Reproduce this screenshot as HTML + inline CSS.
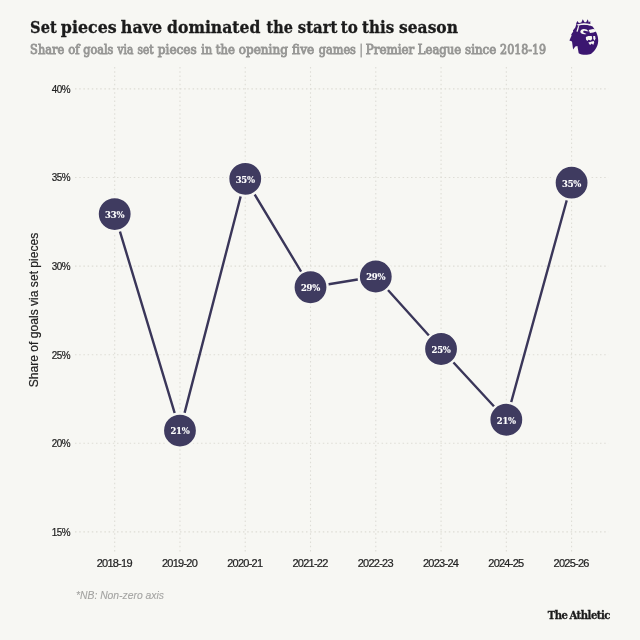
<!DOCTYPE html>
<html lang="en">
<head>
<meta charset="utf-8">
<title>Set pieces have dominated the start to this season</title>
<style>
html,body{margin:0;padding:0;background:#f7f7f3;}
body{width:640px;height:640px;overflow:hidden;position:relative;}
svg{position:absolute;left:0;top:0;display:block;}
.ttl{font-family:"DejaVu Serif Condensed","DejaVu Serif","Liberation Serif",serif;font-weight:bold;font-stretch:condensed;}
.sans{font-family:"Liberation Sans",sans-serif;}
</style>
</head>
<body>
<svg width="640" height="640" viewBox="0 0 640 640">
<rect x="0" y="0" width="640" height="640" fill="#f7f7f3"/>
<text class="ttl" y="32.8" font-size="17.2" fill="#1b1b1b" stroke="#1b1b1b" stroke-width="0.3"><tspan x="30.10" textLength="26.55" lengthAdjust="spacingAndGlyphs">Set</tspan> <tspan x="60.85" textLength="55.80" lengthAdjust="spacingAndGlyphs">pieces</tspan> <tspan x="120.85" textLength="41.30" lengthAdjust="spacingAndGlyphs">have</tspan> <tspan x="167.10" textLength="93.30" lengthAdjust="spacingAndGlyphs">dominated</tspan> <tspan x="266.60" textLength="26.30" lengthAdjust="spacingAndGlyphs">the</tspan> <tspan x="297.85" textLength="39.55" lengthAdjust="spacingAndGlyphs">start</tspan> <tspan x="340.85" textLength="17.05" lengthAdjust="spacingAndGlyphs">to</tspan> <tspan x="362.10" textLength="32.05" lengthAdjust="spacingAndGlyphs">this</tspan> <tspan x="399.10" textLength="58.80" lengthAdjust="spacingAndGlyphs">season</tspan></text>
<text class="ttl" y="53.5" font-size="12.6" style="font-weight:normal" fill="#979795" stroke="#979795" stroke-width="0.85"><tspan x="30.10" textLength="34.05" lengthAdjust="spacingAndGlyphs">Share</tspan> <tspan x="68.35" textLength="11.30" lengthAdjust="spacingAndGlyphs">of</tspan> <tspan x="83.35" textLength="30.05" lengthAdjust="spacingAndGlyphs">goals</tspan> <tspan x="117.60" textLength="15.80" lengthAdjust="spacingAndGlyphs">via</tspan> <tspan x="137.60" textLength="16.05" lengthAdjust="spacingAndGlyphs">set</tspan> <tspan x="157.85" textLength="38.80" lengthAdjust="spacingAndGlyphs">pieces</tspan> <tspan x="201.35" textLength="10.80" lengthAdjust="spacingAndGlyphs">in</tspan> <tspan x="215.85" textLength="19.05" lengthAdjust="spacingAndGlyphs">the</tspan> <tspan x="238.85" textLength="49.05" lengthAdjust="spacingAndGlyphs">opening</tspan> <tspan x="292.10" textLength="22.05" lengthAdjust="spacingAndGlyphs">five</tspan> <tspan x="318.85" textLength="37.05" lengthAdjust="spacingAndGlyphs">games</tspan> <tspan x="360.10" textLength="2.30" lengthAdjust="spacingAndGlyphs">|</tspan> <tspan x="365.85" textLength="48.30" lengthAdjust="spacingAndGlyphs">Premier</tspan> <tspan x="417.85" textLength="43.30" lengthAdjust="spacingAndGlyphs">League</tspan> <tspan x="465.10" textLength="31.05" lengthAdjust="spacingAndGlyphs">since</tspan> <tspan x="500.10" textLength="46.05" lengthAdjust="spacingAndGlyphs">2018-19</tspan></text>
<g stroke="#deddd6" stroke-width="1.1" stroke-dasharray="1.5 2.7" fill="none">
<line x1="75" y1="88.90" x2="608.5" y2="88.90"/>
<line x1="75" y1="177.50" x2="608.5" y2="177.50"/>
<line x1="75" y1="266.10" x2="608.5" y2="266.10"/>
<line x1="75" y1="354.70" x2="608.5" y2="354.70"/>
<line x1="75" y1="443.30" x2="608.5" y2="443.30"/>
<line x1="75" y1="531.90" x2="608.5" y2="531.90"/>
<line x1="114.70" y1="67" x2="114.70" y2="552.5"/>
<line x1="179.97" y1="67" x2="179.97" y2="552.5"/>
<line x1="245.24" y1="67" x2="245.24" y2="552.5"/>
<line x1="310.51" y1="67" x2="310.51" y2="552.5"/>
<line x1="375.78" y1="67" x2="375.78" y2="552.5"/>
<line x1="441.05" y1="67" x2="441.05" y2="552.5"/>
<line x1="506.32" y1="67" x2="506.32" y2="552.5"/>
<line x1="571.59" y1="67" x2="571.59" y2="552.5"/>
</g>
<g class="sans" font-size="11" fill="#222" stroke="#222" stroke-width="0.22">
<text transform="translate(51.65 92.75) scale(0.9 1)" letter-spacing="-0.55">40%</text>
<text transform="translate(51.65 181.35) scale(0.9 1)" letter-spacing="-0.55">35%</text>
<text transform="translate(51.65 269.95) scale(0.9 1)" letter-spacing="-0.55">30%</text>
<text transform="translate(51.65 358.55) scale(0.9 1)" letter-spacing="-0.55">25%</text>
<text transform="translate(51.65 447.15) scale(0.9 1)" letter-spacing="-0.55">20%</text>
<text transform="translate(51.65 535.75) scale(0.9 1)" letter-spacing="-0.55">15%</text>
</g>
<g class="sans" font-size="11" fill="#222" stroke="#222" stroke-width="0.22" letter-spacing="-0.75">
<text x="96.65" y="567">2018-19</text>
<text x="161.92" y="567">2019-20</text>
<text x="227.19" y="567">2020-21</text>
<text x="292.46" y="567">2021-22</text>
<text x="357.73" y="567">2022-23</text>
<text x="423.00" y="567">2023-24</text>
<text x="488.27" y="567">2024-25</text>
<text x="553.54" y="567">2025-26</text>
</g>
<text class="sans" font-size="12.1" fill="#222" stroke="#222" stroke-width="0.2" text-anchor="middle" transform="translate(38.3 310) rotate(-90)">Share of goals via set pieces</text>
<polyline points="114.70,214.10 179.97,430.60 245.24,178.80 310.51,287.25 375.78,276.50 441.05,349.00 506.32,419.75 571.59,182.70" fill="none" stroke="#3a3659" stroke-width="2.4" stroke-linejoin="round"/>
<circle cx="114.70" cy="214.10" r="17.1" fill="#3f3b60" stroke="#f7f7f3" stroke-width="2.4"/>
<circle cx="179.97" cy="430.60" r="17.1" fill="#3f3b60" stroke="#f7f7f3" stroke-width="2.4"/>
<circle cx="245.24" cy="178.80" r="17.1" fill="#3f3b60" stroke="#f7f7f3" stroke-width="2.4"/>
<circle cx="310.51" cy="287.25" r="17.1" fill="#3f3b60" stroke="#f7f7f3" stroke-width="2.4"/>
<circle cx="375.78" cy="276.50" r="17.1" fill="#3f3b60" stroke="#f7f7f3" stroke-width="2.4"/>
<circle cx="441.05" cy="349.00" r="17.1" fill="#3f3b60" stroke="#f7f7f3" stroke-width="2.4"/>
<circle cx="506.32" cy="419.75" r="17.1" fill="#3f3b60" stroke="#f7f7f3" stroke-width="2.4"/>
<circle cx="571.59" cy="182.70" r="17.1" fill="#3f3b60" stroke="#f7f7f3" stroke-width="2.4"/>
<g class="ttl" font-size="9.4" fill="#ffffff" stroke="#ffffff" stroke-width="0.12" letter-spacing="-0.2" text-anchor="middle">
<text x="114.70" y="217.90">33%</text>
<text x="179.97" y="434.40">21%</text>
<text x="245.24" y="182.60">35%</text>
<text x="310.51" y="291.05">29%</text>
<text x="375.78" y="280.30">29%</text>
<text x="441.05" y="352.80">25%</text>
<text x="506.32" y="423.55">21%</text>
<text x="571.59" y="186.50">35%</text>
</g>
<text class="sans" font-size="10.35" font-style="italic" fill="#a4a4a2" stroke="#a4a4a2" stroke-width="0.1" x="76" y="598.6">*NB: Non-zero axis</text>
<text class="ttl" font-size="11.2" fill="#1b1b1b" stroke="#1b1b1b" stroke-width="0.3" letter-spacing="-0.5" word-spacing="-1" x="547.8" y="619.2">The Athletic</text>
<g fill="#3b1670">
<path d="M575.9 24.7 L576.3 23.2 L577.3 21 L578.9 22.9 L581.3 22.4 L582.8 19.3 L584.5 22.2 L586.1 22.3 L587.8 19.3 L588.8 22.5 L590.2 20.9 L590.4 24.1 Q583 21.9 575.9 24.7 Z"/>
<path d="M576.2 24.4 L578.3 25.6 Q584 23.9 589.9 25.5 L592.6 26.4 L594 28.6 C596.2 31.5 598.1 36 598.2 40 C598.4 45 596 50 591.2 53.7 C588 55 582 55.2 578.7 53.2 L577.4 46 L575.3 46.6 L573.1 49.6 L572 41.6 L569.4 40.4 L571.6 35.4 L571.2 34.4 L573.2 31.6 L572.9 30.6 L575.3 27.6 Z"/>
</g>
<g fill="#f7f7f3">
<path d="M578 25.7 Q584 23.6 590 25.4 L589.8 24.6 Q583.5 22.6 577.6 24.9 Z"/>
<path d="M578.1 25.8 L579.1 26.6 L577.7 31.8 L576.4 31.6 Z"/>
<path d="M580.3 31.8 C580.4 29.2 583.5 28.2 586.6 29.5 L588.8 31.5 L585.4 30.9 C583.6 30.7 582.8 31.4 583.4 32.4 L586.6 34 C583.5 34.6 580.4 34 580.3 31.8 Z"/>
<path d="M588.6 30 L593 28.9 L596.5 29.4 L596 31.6 L593.4 32.5 L590 33.1 Z"/>
<path d="M585.8 37.6 C586.3 36 589.5 35.7 592 36.3 L592.1 39 L590.8 40.5 L588.4 39.7 L587.4 40.9 L586.1 39.7 Z"/>
<path d="M593.2 36.1 L595.1 35.9 L595.5 38.4 L594.6 40.7 L593.3 39 Z"/>
<path d="M588.3 42.6 L593.6 41.1 L594.3 42.2 L593.2 45 L591.8 43.6 L590 45.1 Z"/>
</g>
</svg>
</body>
</html>
